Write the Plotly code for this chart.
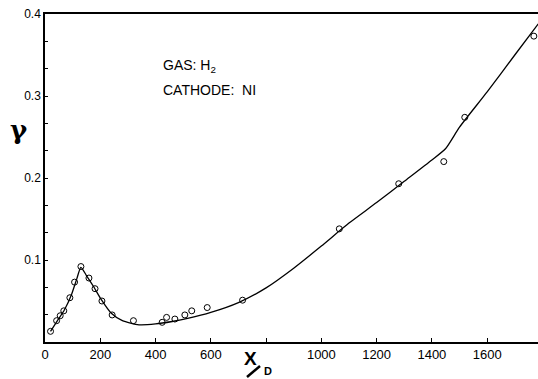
import plotly.graph_objects as go

# Measured points (x/D, gamma)
pts_x = [20, 42, 55, 68, 90, 107, 130, 159, 181, 206, 243, 320, 424, 440, 470, 506, 531, 587, 715, 1065, 1280, 1443, 1519, 1769]
pts_y = [0.013, 0.026, 0.032, 0.038, 0.054, 0.073, 0.092, 0.078, 0.065, 0.050, 0.033, 0.026, 0.024, 0.030, 0.028, 0.033, 0.038, 0.042, 0.051, 0.138, 0.193, 0.220, 0.274, 0.373]

# Smooth fitted curve
curve_x = [20, 45, 70, 95, 115, 130, 150, 175, 205, 240, 280, 340, 400, 460, 520, 600, 700, 800, 900, 1000, 1100, 1200, 1300, 1400, 1450, 1500, 1600, 1700, 1785]
curve_y = [0.013, 0.026, 0.039, 0.057, 0.077, 0.091, 0.081, 0.068, 0.051, 0.035, 0.026, 0.021, 0.022, 0.025, 0.029, 0.036, 0.048, 0.066, 0.090, 0.117, 0.145, 0.170, 0.196, 0.222, 0.236, 0.262, 0.305, 0.350, 0.388]

x_tickvals = [0, 200, 400, 600, 800, 1000, 1200, 1400, 1600]
x_ticktext = ["0", "200", "400", "600", "", "1000", "1200", "1400", "1600"]
y_tickvals = [i / 30 for i in range(13)]
y_ticktext = ["", "", "", "0.1", "", "", "0.2", "", "", "0.3", "", "", "0.4"]

L, R, T, B = 45, 538, 14, 342
W, H = 538, 379


def px(xp):
    return (xp - L) / (R - L)


def py(yp):
    return (B - yp) / (B - T)


fig = go.Figure()
fig.add_trace(go.Scatter(x=curve_x, y=curve_y, mode="lines",
                         line=dict(color="black", width=1.3, shape="spline", smoothing=0.6),
                         hoverinfo="skip", showlegend=False))
fig.add_trace(go.Scatter(x=pts_x, y=pts_y, mode="markers",
                         marker=dict(symbol="circle-open", size=6, color="black", line=dict(width=1)),
                         showlegend=False))

tickfont = dict(family="Liberation Sans", size=12, color="black")
fig.update_layout(
    width=W, height=H,
    margin=dict(l=L, r=W - R, t=T, b=H - B, autoexpand=False),
    paper_bgcolor="white", plot_bgcolor="white",
    xaxis=dict(range=[0, 1784], tickvals=x_tickvals, ticktext=x_ticktext,
               ticks="inside", ticklen=4, tickcolor="black", tickwidth=1,
               showline=True, linecolor="black", linewidth=1.5, mirror=True,
               showgrid=False, zeroline=False, tickfont=dict(family="Liberation Sans", size=13, color="black")),
    yaxis=dict(range=[0, 0.4], tickvals=y_tickvals, ticktext=y_ticktext,
               ticks="inside", ticklen=3, tickcolor="black", tickwidth=1,
               showline=True, linecolor="black", linewidth=1.5,
               showgrid=False, zeroline=False, tickfont=tickfont),
)

fig.add_annotation(xref="paper", yref="paper", x=px(161), y=py(66),
                   xanchor="left", yanchor="middle", showarrow=False,
                   text="GAS: H<sub>2</sub>", font=dict(family="Liberation Sans", size=14, color="black"))
fig.add_annotation(xref="paper", yref="paper", x=px(161), y=py(90),
                   xanchor="left", yanchor="middle", showarrow=False,
                   text="CATHODE:  NI", font=dict(family="Liberation Sans", size=14, color="black"))
fig.add_annotation(xref="paper", yref="paper", x=px(19), y=py(130),
                   xanchor="center", yanchor="middle", showarrow=False,
                   text="<b>γ</b>", font=dict(family="DejaVu Serif", size=26, color="black"))
fig.add_annotation(xref="paper", yref="paper", x=px(250), y=py(358),
                   xanchor="center", yanchor="middle", showarrow=False,
                   text="<b>X</b>", font=dict(family="Liberation Sans", size=19, color="black"))
fig.add_annotation(xref="paper", yref="paper", x=px(268), y=py(371),
                   xanchor="center", yanchor="middle", showarrow=False,
                   text="<b>D</b>", font=dict(family="Liberation Sans", size=11, color="black"))
# the slash of the "X/D" axis title
fig.add_shape(type="line", xref="paper", yref="paper",
              x0=px(247), y0=py(377), x1=px(260), y1=py(366),
              line=dict(color="black", width=2.5))

fig.write_html("out.html", config={"displayModeBar": False},
               post_script="document.body.style.margin='0';document.body.style.overflow='hidden';")
